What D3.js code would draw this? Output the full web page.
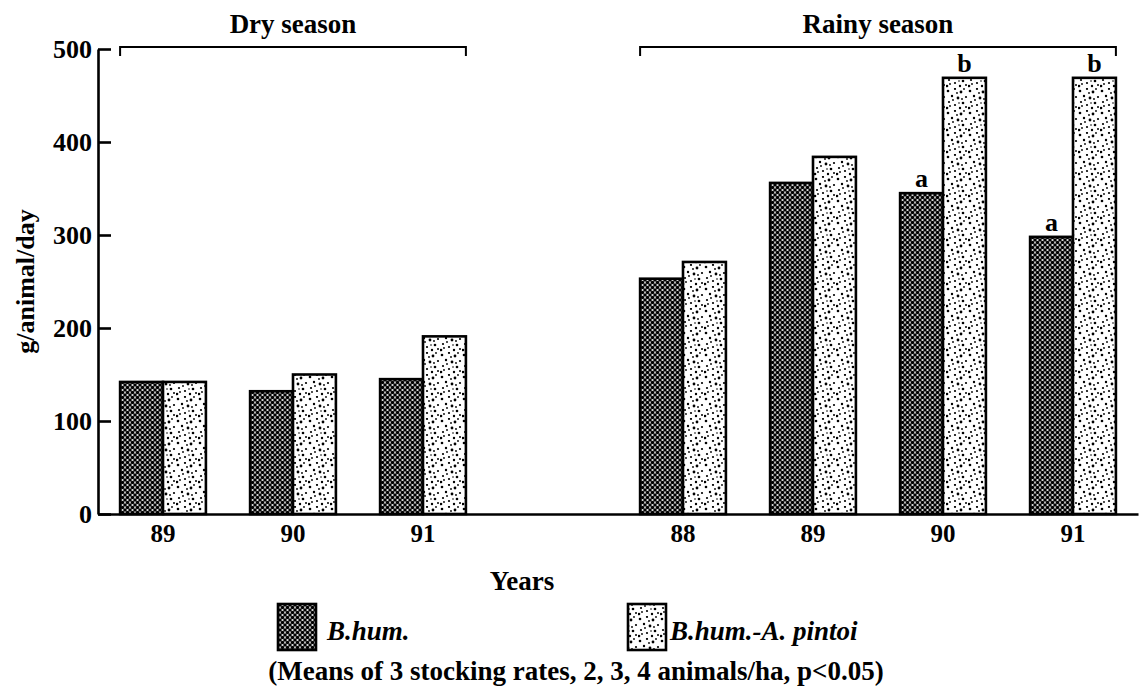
<!DOCTYPE html>
<html>
<head>
<meta charset="utf-8">
<script src="https://cdn.jsdelivr.net/npm/d3@7/dist/d3.min.js"></script>
<style>
  html, body { margin: 0; padding: 0; background: #fff; }
  svg { display: block; }
  text { font-family: "Liberation Serif", "DejaVu Serif", serif; font-weight: bold; fill: #000; }
</style>
</head>
<body>
<svg id="chart" width="1146" height="692"></svg>
<script>
// Year slots along the x axis; the empty slot separates the two seasons
const slotYears = ["89", "90", "91", "", "88", "89", "90", "91"];
// Live-weight gain, g/animal/day
const bhumValues   = [142, 132, 145, null, 253, 356, 345, 298];
const pintoiValues = [142, 150, 191, null, 271, 384, 469, 469];
// Significance letters (p<0.05)
const bhumLetters   = ["", "", "", "", "", "", "a", "a"];
const pintoiLetters = ["", "", "", "", "", "", "b", "b"];
// Season groupings by slot index
const seasonNames = ["Dry season", "Rainy season"];
const seasonFirst = [0, 4];
const seasonLast  = [2, 7];
const yTicks = [0, 100, 200, 300, 400, 500];
const seriesNames = ["B.hum.", "B.hum.-A. pintoi"];

const svg = d3.select("#chart");
const defs = svg.append("defs");

// Dense dot mesh for B.hum.
const p1 = defs.append("pattern").attr("id", "pat-bhum")
  .attr("patternUnits", "userSpaceOnUse").attr("width", 5).attr("height", 5);
p1.append("rect").attr("width", 5).attr("height", 5).attr("fill", "#fff");
[[0,0],[5,0],[0,5],[5,5],[2.5,2.5]].forEach(([cx, cy]) =>
  p1.append("circle").attr("cx", cx).attr("cy", cy).attr("r", 1.8).attr("fill", "#000"));

// Sparse stipple for B.hum.-A. pintoi
const p2 = defs.append("pattern").attr("id", "pat-pintoi")
  .attr("patternUnits", "userSpaceOnUse").attr("width", 22).attr("height", 22);
p2.append("rect").attr("width", 22).attr("height", 22).attr("fill", "#fff");
const stipple = [
  [2,3,1.3],[9,1,1.1],[15,4,1.4],[20,9,1.1],[6,8,1.2],[12,10,1.4],[3,14,1.1],
  [17,15,1.3],[9,17,1.1],[14,20,1.2],[1,20,1.3],[20,19,1.0],[7,12,0.9],[18,1,0.9],
  [11,5,0.9],[4,18,0.9],[16,11,0.9],[13,15,0.8]
];
stipple.forEach(([cx, cy, r]) =>
  p2.append("circle").attr("cx", cx).attr("cy", cy).attr("r", r).attr("fill", "#000"));

const fills = ["url(#pat-bhum)", "url(#pat-pintoi)"];

const x = d3.scaleBand().domain(d3.range(slotYears.length)).range([98, 1138]).padding(0);
const xSub = d3.scaleBand().domain([0, 1])
  .range([x.bandwidth() * 0.17, x.bandwidth() * 0.83]).padding(0);
const y = d3.scaleLinear().domain([0, 500]).range([514, 49]);

// Axes
const yAxis = d3.axisLeft(y).tickValues(yTicks).tickSizeInner(-13).tickSizeOuter(0).tickPadding(6);
const gy = svg.append("g").attr("transform", "translate(98,0)").call(yAxis);
gy.select(".domain").attr("stroke-width", 2.6);
gy.selectAll(".tick line").attr("stroke-width", 2.6);
gy.selectAll(".tick text").style("font-size", "26px").attr("dy", "0.34em");

const xAxis = d3.axisBottom(x).tickSize(0).tickSizeOuter(0).tickPadding(10)
  .tickFormat(i => slotYears[i]);
const gx = svg.append("g").attr("transform", "translate(0,514)").call(xAxis);
gx.select(".domain").attr("stroke-width", 2.6);
gx.selectAll(".tick text").style("font-size", "25px");
svg.selectAll(".domain").attr("stroke", "#000");

// Bars
const seriesValues = [bhumValues, pintoiValues];
const seriesLetters = [bhumLetters, pintoiLetters];
seriesValues.forEach((vals, s) => {
  const data = vals.map((v, i) => ({ i, v, letter: seriesLetters[s][i] })).filter(d => d.v != null);
  svg.append("g").selectAll("rect").data(data).join("rect")
    .attr("x", d => x(d.i) + xSub(s))
    .attr("y", d => y(d.v))
    .attr("width", xSub.bandwidth())
    .attr("height", d => y(0) - y(d.v))
    .attr("fill", fills[s])
    .attr("stroke", "#000")
    .attr("stroke-width", 2.6);
  svg.append("g").selectAll("text").data(data.filter(d => d.letter)).join("text")
    .attr("x", d => x(d.i) + xSub(s) + xSub.bandwidth() / 2)
    .attr("y", d => y(d.v) - 6)
    .attr("text-anchor", "middle")
    .style("font-size", "26px")
    .text(d => d.letter);
});

// Season brackets
seasonNames.forEach((name, k) => {
  const x0 = x(seasonFirst[k]) + xSub(0);
  const x1 = x(seasonLast[k]) + xSub(1) + xSub.bandwidth();
  const yb = y(500) - 2;
  svg.append("path")
    .attr("d", `M${x0},${yb + 9}V${yb}H${x1}V${yb + 9}`)
    .attr("fill", "none").attr("stroke", "#000").attr("stroke-width", 2);
  svg.append("text")
    .attr("x", (x0 + x1) / 2).attr("y", yb - 14)
    .attr("text-anchor", "middle").style("font-size", "27px")
    .text(name);
});

// Axis titles
svg.append("text")
  .attr("transform", `translate(34,${(y(0) + y(500)) / 2}) rotate(-90)`)
  .attr("text-anchor", "middle").style("font-size", "26px")
  .text("g/animal/day");
svg.append("text")
  .attr("x", 522).attr("y", 590)
  .attr("text-anchor", "middle").style("font-size", "27px")
  .text("Years");

// Legend
const legendX = [278, 628];
seriesNames.forEach((name, s) => {
  svg.append("rect")
    .attr("x", legendX[s]).attr("y", 604).attr("width", 38).attr("height", 46)
    .attr("fill", fills[s]).attr("stroke", "#000").attr("stroke-width", 2.6);
  svg.append("text")
    .attr("x", legendX[s] + (s === 0 ? 49 : 42)).attr("y", 640)
    .style("font-size", "27px").style("font-style", "italic")
    .text(name);
});

svg.append("text")
  .attr("x", 576).attr("y", 680)
  .attr("text-anchor", "middle").style("font-size", "27px")
  .text("(Means of 3 stocking rates, 2, 3, 4 animals/ha, p<0.05)");
</script>
</body>
</html>
